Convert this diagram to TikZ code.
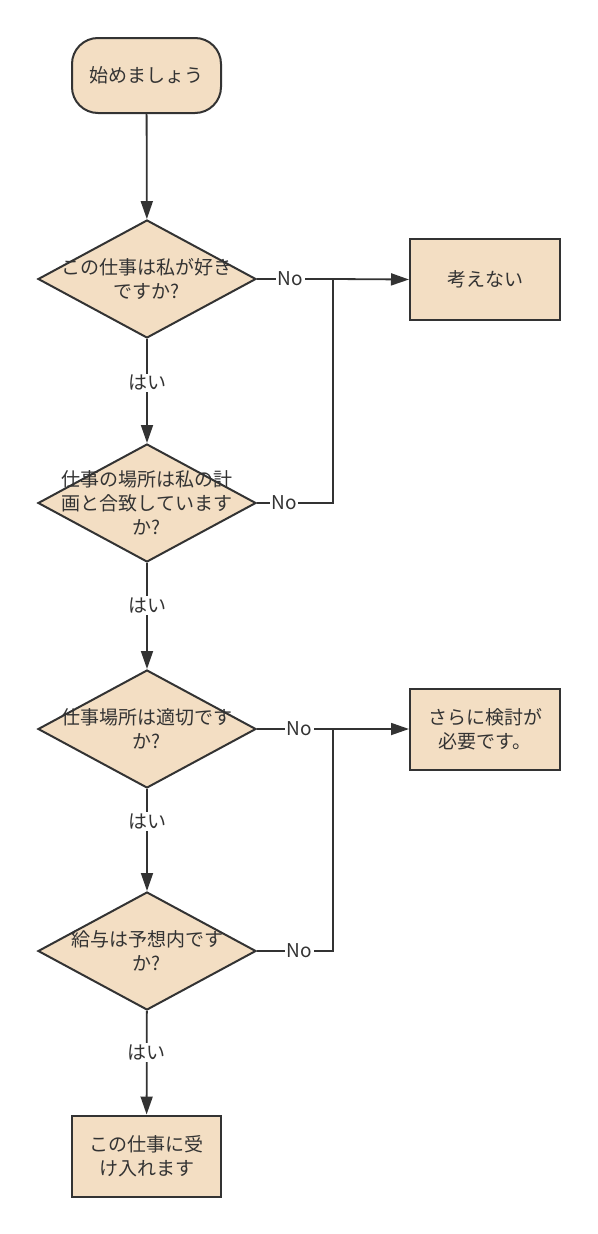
\documentclass[tikz,border=0pt]{standalone}
\usepackage{fontspec}
\setmainfont{Noto Sans CJK JP}
\usetikzlibrary{arrows.meta,shapes.geometric,positioning}

\definecolor{boxfill}{HTML}{F3DEC3}
\definecolor{linegray}{HTML}{333333}

\tikzset{
  base/.style={draw=linegray, line width=2pt, fill=boxfill},
  terminal/.style={base, rectangle, rounded corners=26pt, minimum width=149pt, minimum height=75pt},
  process/.style={base, rectangle, minimum width=150pt, minimum height=81pt, inner sep=0pt},
  decision/.style={base, diamond, minimum width=218pt, minimum height=118pt, inner sep=0pt},
  words/.style={text=linegray, align=center, font=\fontsize{19}{24}\selectfont},
  link/.style={draw=linegray, line width=1.8pt},
  arrow/.style={link, -{Triangle[length=18pt,width=12pt]}},
  tag/.style={words, fill=white, inner sep=1.5pt}
}

\begin{document}
\begin{tikzpicture}[x=1pt, y=-1pt]

    % Fix the page size
    \useasboundingbox (0,0) rectangle (597,1234);

    % Start terminal
    \node[terminal, words] (start) at (146.5,75.5) {始めましょう};

    % Decisions (shape first, text on top)
    \node[decision] (q1) at (147,279) {};
    \node[words] (q1t) at (q1) {この仕事は私が好き\\ですか?};
    \node[decision] (q2) at (147,503) {};
    \node[words] (q2t) at (q2) {仕事の場所は私の計\\画と合致しています\\か?};
    \node[decision] (q3) at (147,729) {};
    \node[words] (q3t) at (q3) {仕事場所は適切です\\か?};
    \node[decision] (q4) at (147,951) {};
    \node[words] (q4t) at (q4) {給与は予想内です\\か?};

    % Outcomes on the right
    \node[process, words] (skip) at (485,279.5) {考えない};
    \node[process, words] (think) at (485,729) {さらに検討が\\必要です。};

    % Final box
    \node[process, words, minimum width=149pt] (accept) at (146.5,1156) {この仕事に受\\け入れます};

    % Junctions where the No lines meet
    \coordinate (j1) at (333,279);
    \coordinate (j2) at (333,729);

    % Main flow
    \draw[arrow] (start) -- (q1);
    \draw[arrow] (q1) -- node[tag, pos=0.42] {はい} (q2);
    \draw[arrow] (q2) -- node[tag, pos=0.4] {はい} (q3);
    \draw[arrow] (q3) -- node[tag, pos=0.32] {はい} (q4);
    \draw[arrow] (q4) -- node[tag, pos=0.4] {はい} (accept);

    % No branches
    \draw[link] (q1.east) -- node[tag, pos=0.44] {No} (j1);
    \draw[arrow] (j1) -- (skip.west);
    \draw[link] (q2.east) -| node[tag, pos=0.18] {No} (j1);
    \draw[link] (q3.east) -- node[tag, pos=0.56] {No} (j2);
    \draw[arrow] (j2) -- (think.west);
    \draw[link] (q4.east) -| node[tag, pos=0.28] {No} (j2);

\end{tikzpicture}
\end{document}
